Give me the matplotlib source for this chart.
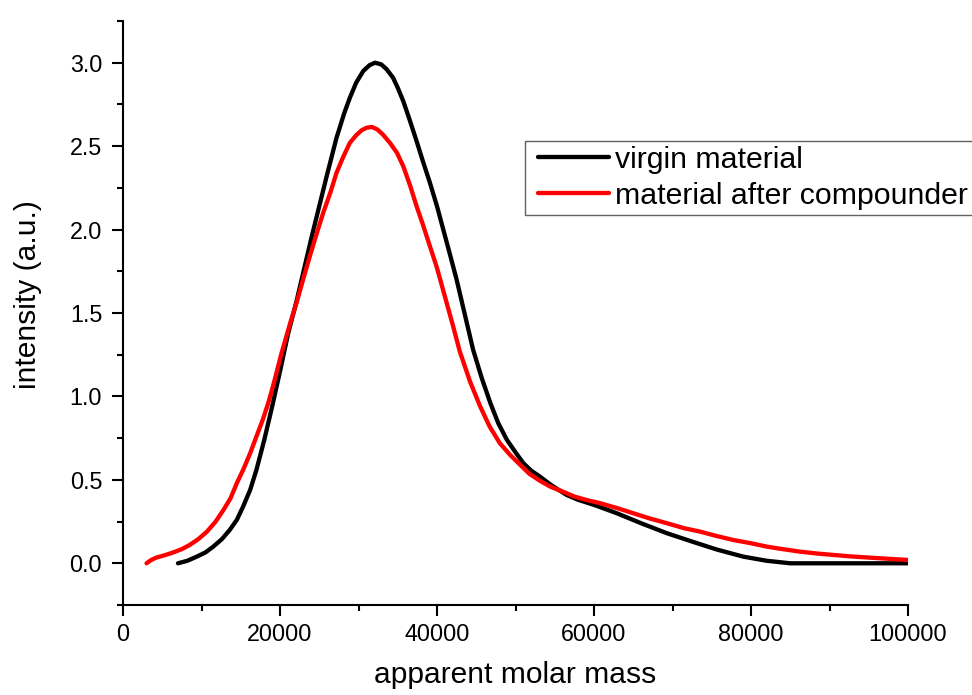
import matplotlib
matplotlib.use("Agg")
import matplotlib.pyplot as plt
from matplotlib.ticker import MultipleLocator, FormatStrFormatter
from matplotlib.legend_handler import HandlerLine2D
from matplotlib.lines import Line2D

# ---- data ----
virgin_x = [7000, 8200, 9400, 10500, 11500, 12600, 13600, 14500, 15300, 16200, 17000,
            18000, 19000, 20000, 21000, 22100, 23000, 24000, 25000, 26000, 27200,
            28200, 28900, 29700, 30600, 31400, 32100, 32900, 33600, 34400, 35000,
            35700, 36500, 37400, 38200, 39100, 40000, 40800, 41600, 42500, 43500,
            44600, 45700, 46800, 47800, 48900, 50000, 51000, 52000, 53100, 54500,
            56500, 58000, 60000, 62900, 66000, 69300, 72500, 75600, 79000, 82000,
            85000, 90000, 95000, 100000]
virgin_y = [0.0, 0.015, 0.04, 0.065, 0.10, 0.145, 0.20, 0.26, 0.34, 0.44, 0.56,
            0.74, 0.94, 1.15, 1.37, 1.57, 1.75, 1.95, 2.14, 2.33, 2.55,
            2.70, 2.79, 2.88, 2.95, 2.985, 3.00, 2.99, 2.96, 2.91, 2.85,
            2.77, 2.66, 2.53, 2.41, 2.28, 2.14, 2.00, 1.86, 1.70, 1.50,
            1.28, 1.11, 0.96, 0.84, 0.74, 0.665, 0.60, 0.555, 0.52, 0.47,
            0.41, 0.38, 0.35, 0.30, 0.24, 0.18, 0.13, 0.083, 0.04, 0.015,
            0.0, 0.0, 0.0, 0.0]

compound_x = [3000, 3600, 4300, 5300, 6400, 7500, 8500, 9600, 10700, 11800, 12800,
              13700, 14500, 15400, 16200, 17000, 17800, 18500, 19100, 20200, 21300,
              22100, 23000, 23800, 24700, 25500, 26400, 27200, 28000, 28900, 29700,
              30400, 31000, 31700, 32400, 33100, 34000, 34900, 35700, 36600, 37400,
              38200, 39100, 40000, 41000, 42000, 42900, 44200, 45500, 46700, 48000,
              49300, 50600, 51800, 53100, 54400, 56000, 57500, 59000, 60800, 63000,
              65000, 67000, 69300, 71500, 73500, 75500, 77700, 80000, 82000, 84000,
              86200, 88500, 90500, 92500, 94700, 97500, 100000]
compound_y = [0.0, 0.02, 0.035, 0.048, 0.065, 0.085, 0.11, 0.145, 0.19, 0.25, 0.32,
              0.39, 0.48, 0.57, 0.66, 0.76, 0.86, 0.96, 1.06, 1.26, 1.44,
              1.56, 1.71, 1.84, 1.98, 2.10, 2.22, 2.34, 2.43, 2.52, 2.565,
              2.595, 2.61, 2.615, 2.60, 2.57, 2.52, 2.46, 2.38, 2.26, 2.14,
              2.03, 1.90, 1.77, 1.60, 1.43, 1.27, 1.09, 0.94, 0.82, 0.72,
              0.65, 0.59, 0.535, 0.495, 0.46, 0.43, 0.40, 0.38, 0.36, 0.33,
              0.30, 0.27, 0.24, 0.21, 0.19, 0.165, 0.14, 0.12, 0.10, 0.085,
              0.07, 0.058, 0.05, 0.042, 0.035, 0.027, 0.02]

series_labels = ["virgin material", "material after compounder"]
x_label = "apparent molar mass"
y_label = "intensity (a.u.)"

plt.rcParams['font.family'] = ['Liberation Sans', 'DejaVu Sans']

fig = plt.figure(figsize=(9.72, 6.95), dpi=100)
W, H = 972, 695
ax = fig.add_axes([123 / W, 1 - 605 / H, (908 - 123) / W, (605 - 21) / H])

ax.plot(virgin_x, virgin_y, color='#000000', lw=3.1, label=series_labels[0],
        solid_joinstyle='round', solid_capstyle='round')
ax.plot(compound_x, compound_y, color='#ff0000', lw=3.1, label=series_labels[1],
        solid_joinstyle='round', solid_capstyle='round')

ax.set_xlim(0, 100000)
ax.set_ylim(-0.25, 3.25)
ax.spines['top'].set_visible(False)
ax.spines['right'].set_visible(False)
for s in ['left', 'bottom']:
    ax.spines[s].set_linewidth(1.5)

ax.xaxis.set_major_locator(MultipleLocator(20000))
ax.xaxis.set_minor_locator(MultipleLocator(10000))
ax.yaxis.set_major_locator(MultipleLocator(0.5))
ax.yaxis.set_minor_locator(MultipleLocator(0.25))
ax.yaxis.set_major_formatter(FormatStrFormatter('%.1f'))

ax.tick_params(which='major', direction='out', length=8, width=1.5, labelsize=16.8)
ax.tick_params(which='minor', direction='out', length=4.5, width=1.5)
ax.tick_params(axis='x', which='major', pad=5)
ax.tick_params(axis='y', which='major', pad=7)

ax.set_xlabel(x_label, fontsize=21.6)
ax.xaxis.set_label_coords(0.5, (605 - 683) / 584)
ax.xaxis.label.set_va('baseline')
ax.set_ylabel(y_label, fontsize=21.6)
ax.yaxis.set_label_coords((28 - 123) / 785, (605 - 295) / 584)
ax.yaxis.label.set_va('center')


class OffsetLineHandler(HandlerLine2D):
    def get_xdata(self, legend, xdescent, ydescent, width, height, fontsize):
        off = 6.3
        xd = [-xdescent + off, -xdescent + width]
        return xd, xd


leg = ax.legend(loc='upper left', bbox_to_anchor=(525 / W, 1 - 141 / H),
                bbox_transform=fig.transFigure, fontsize=21.8, frameon=True,
                fancybox=False, edgecolor='#606060', framealpha=1,
                borderaxespad=0, borderpad=0.15, labelspacing=0.28,
                handlelength=2.63, handletextpad=0.2,
                handler_map={Line2D: OffsetLineHandler()})
leg.get_frame().set_linewidth(1.0)

fig.savefig("out.png", dpi=100)
